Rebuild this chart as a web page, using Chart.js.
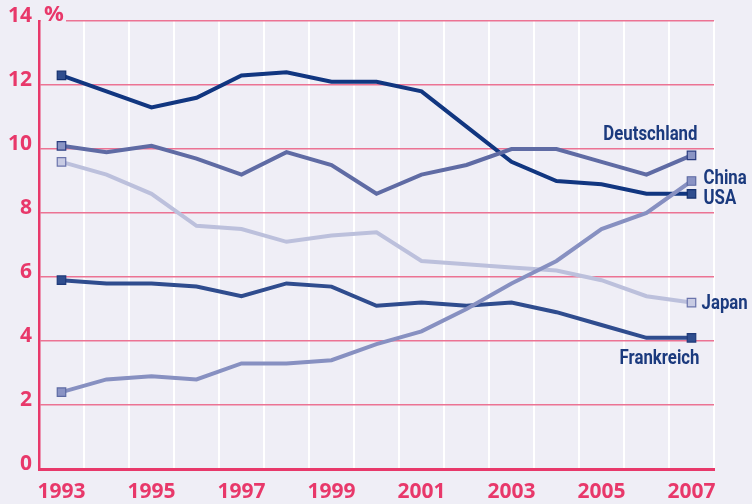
<!DOCTYPE html>
<html>
<head>
<meta charset="utf-8">
<script src="https://cdn.jsdelivr.net/npm/chart.js@4/dist/chart.umd.min.js"></script>
<style>
  html, body { margin: 0; padding: 0; background: #efeef6; }
  #wrap { width: 752px; height: 504px; }
</style>
</head>
<body>
<div id="wrap"><canvas id="chart" width="752" height="504"></canvas></div>
<script>
// data (% values)
const years = ['1993','1994','1995','1996','1997','1998','1999','2000','2001','2002','2003','2004','2005','2006','2007'];
const usa         = [12.3, 11.8, 11.3, 11.6, 12.3, 12.4, 12.1, 12.1, 11.8, 10.7, 9.6, 9.0, 8.9, 8.6, 8.6];
const deutschland = [10.1, 9.9, 10.1, 9.7, 9.2, 9.9, 9.5, 8.6, 9.2, 9.5, 10.0, 10.0, 9.6, 9.2, 9.8];
const japan       = [9.6, 9.2, 8.6, 7.6, 7.5, 7.1, 7.3, 7.4, 6.5, 6.4, 6.3, 6.2, 5.9, 5.4, 5.2];
const frankreich  = [5.9, 5.8, 5.8, 5.7, 5.4, 5.8, 5.7, 5.1, 5.2, 5.1, 5.2, 4.9, 4.5, 4.1, 4.1];
const china       = [2.4, 2.8, 2.9, 2.8, 3.3, 3.3, 3.4, 3.9, 4.3, 5.0, 5.8, 6.5, 7.5, 8.0, 9.0];
const yTicks = [0, 2, 4, 6, 8, 10, 12, 14];

const PINK = '#e8386a';
const GRID_PINK = '#ec7393';
const BG = '#efeef6';
const NAVY_TEXT = '#1b3a7e';
const CONDENSE = 0.84; // squeeze label text like a condensed face

// only first and last point get a square marker
const endsOnly = r => ctx => (ctx.dataIndex === 0 || ctx.dataIndex === years.length - 1) ? r : 0;

function series(label, data, line, fill, border) {
    return {
        label: label,
        data: data,
        borderColor: line,
        borderWidth: 4,
        tension: 0,
        pointStyle: 'rect',
        pointRadius: endsOnly(6),
        pointBackgroundColor: fill,
        pointBorderColor: border,
        pointBorderWidth: 1.2,
        pointHoverRadius: 0
    };
}

// label placement next to the last point (pixel offsets)
const endLabels = {
    'Deutschland': { dx: 6,  dy: -20, align: 'right' },
    'China':       { dx: 12, dy: -2,  align: 'left' },
    'USA':         { dx: 12, dy: 5,   align: 'left' },
    'Japan':       { dx: 10, dy: 1,   align: 'left' },
    'Frankreich':  { dx: 8,  dy: 21,  align: 'right' }
};

const labelPlugin = {
    id: 'endLabels',
    afterDraw(chart) {
        const c = chart.ctx;
        const xs = chart.scales.x, ys = chart.scales.y;
        c.save();
        // "%" unit at the top of the y axis, gap in the top grid line
        c.fillStyle = BG;
        c.fillRect(xs.left + 2, ys.top - 4, 25, 8);
        c.fillStyle = PINK;
        c.font = 'bold 22px "Open Sans", sans-serif';
        c.textAlign = 'left';
        c.textBaseline = 'middle';
        c.fillText('%', xs.left + 5, ys.top - 6);

        c.font = 'bold 20px Roboto, "DejaVu Sans", sans-serif';
        c.fillStyle = NAVY_TEXT;
        chart.data.datasets.forEach(ds => {
            const pos = endLabels[ds.label];
            if (!pos) return;
            const last = ds.data.length - 1;
            const px = xs.getPixelForValue(last) + pos.dx;
            const py = ys.getPixelForValue(ds.data[last]) + pos.dy;
            c.save();
            c.translate(px, py);
            c.scale(CONDENSE, 1);
            c.textAlign = pos.align;
            c.fillText(ds.label, 0, 0);
            c.restore();
        });
        c.restore();
    }
};

new Chart(document.getElementById('chart'), {
    type: 'line',
    data: {
        labels: years,
        datasets: [
            series('China', china, '#8790c1', '#8a93c4', '#5d6aa3'),
            series('Deutschland', deutschland, '#5f6ba4', '#8a94c4', '#2a3c80'),
            series('USA', usa, '#113680', '#2f4d8e', '#132f6e'),
            series('Frankreich', frankreich, '#2f4c8e', '#2f4d8e', '#1f3a7a'),
            series('Japan', japan, '#bcc0dc', '#c8cbe3', '#6b74ac')
        ]
    },
    options: {
        responsive: false,
        animation: false,
        events: [],
        layout: { padding: { top: 21, right: 38, left: 0, bottom: 0 } },
        plugins: {
            legend: { display: false },
            tooltip: { enabled: false }
        },
        scales: {
            x: {
                offset: true,
                grid: {
                    offset: true,
                    color: c => c.index === 0 ? 'rgba(0,0,0,0)' : '#ffffff',
                    lineWidth: 2,
                    drawTicks: false
                },
                border: { color: PINK, width: 3 },
                ticks: {
                    autoSkip: false,
                    maxRotation: 0,
                    padding: 10,
                    color: PINK,
                    font: { family: '"Open Sans", sans-serif', size: 21, weight: 'bold' },
                    callback: (v, i) => (i % 2 === 0 ? years[i] : '')
                },
                afterFit: s => { s.height = 35; }
            },
            y: {
                min: 0,
                max: 14,
                afterBuildTicks: s => { s.ticks = yTicks.map(v => ({ value: v })); },
                grid: { color: GRID_PINK, lineWidth: 1.5, drawTicks: false },
                border: { color: PINK, width: 2.5 },
                ticks: {
                    padding: 7,
                    labelOffset: -5,
                    color: PINK,
                    font: { family: '"Open Sans", sans-serif', size: 21, weight: 'bold' }
                },
                afterFit: s => { s.width = 39; }
            }
        }
    },
    plugins: [labelPlugin]
});
</script>
</body>
</html>
